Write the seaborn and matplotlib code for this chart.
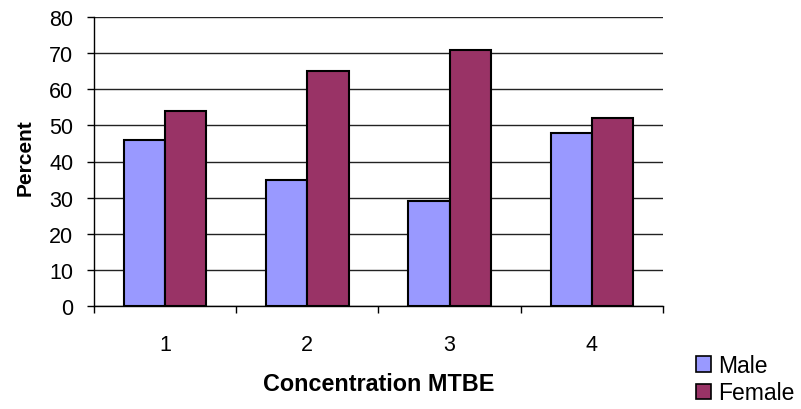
import matplotlib
matplotlib.use("Agg")
import matplotlib.pyplot as plt
import seaborn as sns
import pandas as pd
from matplotlib.patches import Patch
from matplotlib.ticker import FixedLocator, MultipleLocator

concentrations = ["1", "2", "3", "4"]
male_pct = [46, 35, 29, 48]
female_pct = [54, 65, 71, 52]
series_names = ["Male", "Female"]
series_colors = ["#9999FF", "#993366"]

df = pd.DataFrame({
    "Concentration": concentrations * 2,
    "Percent": male_pct + female_pct,
    "Sex": [series_names[0]] * len(concentrations) + [series_names[1]] * len(concentrations),
})

sns.set_style("white")
plt.rcParams["font.family"] = ["Liberation Sans", "DejaVu Sans"]
plt.rcParams["text.color"] = "black"
plt.rcParams["axes.labelcolor"] = "black"
plt.rcParams["xtick.color"] = "black"
plt.rcParams["ytick.color"] = "black"

W, H = 801, 410
fig = plt.figure(figsize=(W / 100, H / 100), dpi=100)
ax = fig.add_axes([94 / W, 1 - 307 / H, (663 - 94) / W, (307 - 18) / H])

sns.barplot(data=df, x="Concentration", y="Percent", hue="Sex",
            palette=series_colors, width=0.58, edgecolor="black",
            linewidth=1.5, saturation=1, ax=ax, legend=False, zorder=3)

ax.set_xlim(-0.5, 3.5)
ax.set_ylim(0, 80)
ax.yaxis.set_major_locator(MultipleLocator(10))
ax.grid(axis="y", color="#222222", linewidth=1, zorder=0)
ax.set_axisbelow(True)

for s in ["top", "right"]:
    ax.spines[s].set_visible(False)
for s in ["left", "bottom"]:
    ax.spines[s].set_color("black")
    ax.spines[s].set_linewidth(1)

ax.tick_params(axis="y", which="major", direction="out", length=5, width=1,
               color="black", labelcolor="black", pad=10, labelsize=15.5, left=True)
ax.tick_params(axis="x", which="major", length=0, pad=20, labelsize=15.5,
               labelcolor="black")
ax.xaxis.set_minor_locator(FixedLocator([-0.5, 0.5, 1.5, 2.5, 3.5]))
ax.tick_params(axis="x", which="minor", direction="out", length=5, width=1,
               color="black", bottom=True)

ax.set_xlabel("Concentration MTBE", fontsize=16.8, fontweight="bold", color="black")
ax.set_ylabel("Percent", fontsize=15, fontweight="bold", color="black")
ax.xaxis.set_label_coords(0.5, -0.228)
ax.yaxis.set_label_coords(-0.105, 0.517)

handles = [Patch(facecolor=c, edgecolor="black", linewidth=1.2) for c in series_colors]
leg = fig.legend(handles, series_names, loc="upper left",
                 bbox_to_anchor=(696 / W, 1 - 355 / H), frameon=False, fontsize=16.5,
                 handlelength=0.66, handleheight=0.66, handletextpad=0.3,
                 labelspacing=0.19, borderpad=0, borderaxespad=0)
for t in leg.get_texts():
    t.set_color("black")

fig.savefig("out.png", dpi=100)
